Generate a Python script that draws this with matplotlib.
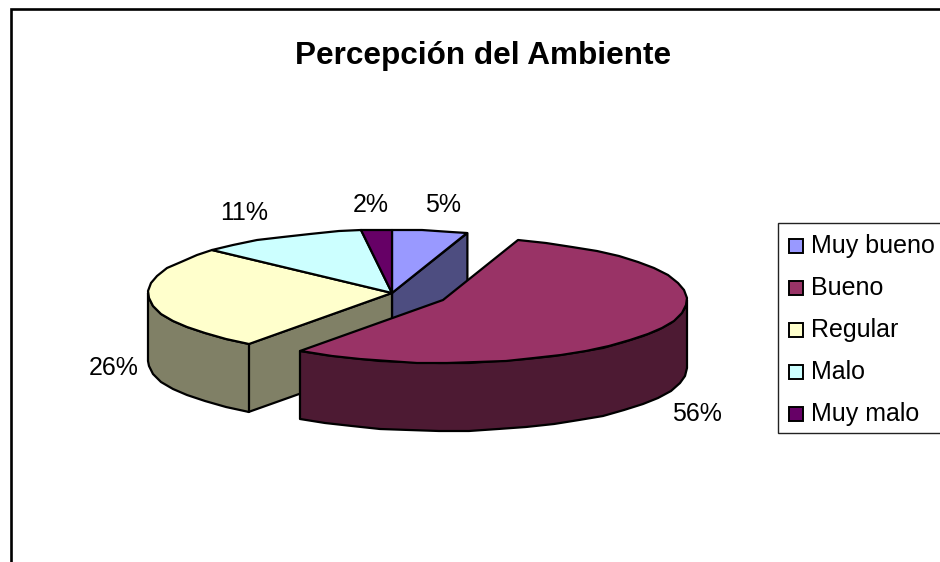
import numpy as np
import matplotlib
matplotlib.use('Agg')
import matplotlib.pyplot as plt
from matplotlib.patches import Polygon, Rectangle

plt.rcParams['font.family'] = ['Liberation Sans', 'DejaVu Sans']

categories = ['Muy bueno', 'Bueno', 'Regular', 'Malo', 'Muy malo']
# slice sizes as drawn in the picture, printed labels differ a little
values = [5.0, 55.0, 26.8, 11.2, 2.0]
pct_labels = ['5%', '56%', '26%', '11%', '2%']
colors = ['#9999FF', '#993366', '#FFFFCC', '#CCFFFF', '#660066']
side_colors = ['#4D4D80', '#4D1A33', '#808066', '#668080', '#330033']
title = 'Percepción del Ambiente'

# layout in pixels
center = (392, 293)
exploded_center = (443, 300)
rx, ry, depth = 244, 63, 68
exploded = 1
label_pos = [(443, 205), (697, 414), (114, 368), (244, 213), (371, 205)]
lw = 1.6


def rim(a, c):
    # angle in degrees clockwise from the top of the pie
    r = np.radians(a)
    return c[0] + rx * np.sin(r), c[1] - ry * np.cos(r)


def arc(a0, a1, c):
    angles = np.append(np.arange(a0, a1, 7.0), a1)
    xs, ys = rim(angles, c)
    return np.round(xs), np.round(ys)


def shape(ax, xs, ys, color, z):
    ax.add_patch(Polygon(np.column_stack([xs, ys]), closed=True, facecolor=color,
                         edgecolor='black', lw=lw, joinstyle='round', zorder=z))


def outer_wall(ax, a0, a1, c, color, z):
    a0, a1 = max(a0, 90), min(a1, 270)
    if a1 <= a0:
        return
    xs, ys = arc(a0, a1, c)
    shape(ax, np.r_[xs, xs[::-1]], np.r_[ys, ys[::-1] + depth], color, z)


def cut_wall(ax, a, c, color, z):
    x, y = rim(a, c)
    shape(ax, [c[0], x, x, c[0]], [c[1], y, y + depth, c[1] + depth], color, z)


def top(ax, a0, a1, c, color, z):
    xs, ys = arc(a0, a1, c)
    shape(ax, np.r_[c[0], xs], np.r_[c[1], ys], color, z)


fig = plt.figure(figsize=(9.4, 5.62), dpi=100)
ax = fig.add_axes([0, 0, 1, 1])
ax.set_xlim(0, 940)
ax.set_ylim(562, 0)
ax.axis('off')

# chart frame, cut by the bottom and right of the picture
ax.plot([11, 11, 945], [570, 9, 9], color='black', lw=1.9, solid_joinstyle='miter', zorder=1)

edges = np.cumsum([0] + values) / sum(values) * 360
for i in range(len(values)):
    a0, a1 = edges[i], edges[i + 1]
    if i == exploded:
        continue
    if i == exploded - 1:
        cut_wall(ax, a1, center, side_colors[i], 2)
    if i == exploded + 1:
        cut_wall(ax, a0, center, side_colors[i], 2)
    outer_wall(ax, a0, a1, center, side_colors[i], 3)
    top(ax, a0, a1, center, colors[i], 4)

a0, a1 = edges[exploded], edges[exploded + 1]
outer_wall(ax, a0, a1, exploded_center, side_colors[exploded], 5)
top(ax, a0, a1, exploded_center, colors[exploded], 6)

for text, (x, y) in zip(pct_labels, label_pos):
    ax.text(x, y, text, fontsize=18, ha='center', va='center', color='black', zorder=7)

ax.text(483, 56, title, fontsize=22.7, fontweight='bold', ha='center', va='center', zorder=7)

# legend
ax.add_patch(Rectangle((778, 222.5), 200, 210.5, facecolor='white', edgecolor='#222222', lw=1.0, zorder=7))
for i, name in enumerate(categories):
    y = 245.5 + i * 42
    ax.add_patch(Rectangle((788.5, y - 7), 14, 14, facecolor=colors[i], edgecolor='black', lw=1.4, zorder=8))
    ax.text(811, y + 0.5, name, fontsize=18, ha='left', va='center', zorder=8)

fig.savefig('out.png', dpi=100)
